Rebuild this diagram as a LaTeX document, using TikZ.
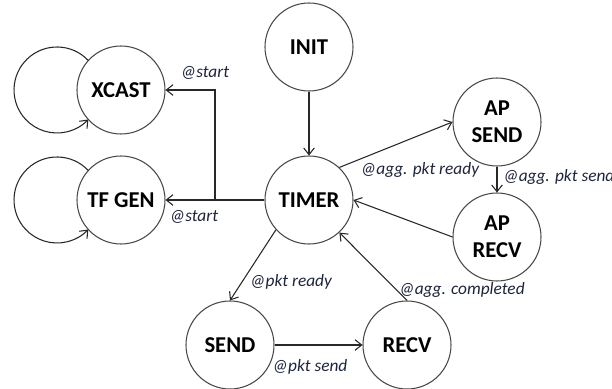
\documentclass[tikz,border=0pt]{standalone}
\usepackage{fontspec}
\setmainfont{Carlito}
\usetikzlibrary{arrows.meta}
\definecolor{lbl}{RGB}{30,36,60}
\definecolor{edge}{RGB}{40,40,40}
\tikzset{
  state/.style={circle, draw=edge!85, line width=0.8pt, minimum size=66pt, inner sep=0pt,
    align=center, font=\bfseries\fontsize{17}{20}\selectfont, text=black},
  arr/.style={draw=edge, line width=0.8pt, -{Straight Barb[length=5pt,width=8pt]}},
  lab/.style={font=\itshape\fontsize{13}{15}\selectfont, text=lbl, inner sep=0pt}
}
\begin{document}
\begin{tikzpicture}[x=0.75pt,y=0.75pt]
\useasboundingbox (0,0) rectangle (612,-389);
\node[state] (init) at (309,-47) {INIT};
\node[state] (timer) at (309,-200) {TIMER};
\node[state] (xcast) at (121,-90) {XCAST};
\node[state] (tfgen) at (121,-200) {TF GEN};
\node[state] (apsend) at (497,-122) {AP\\SEND};
\node[state] (aprecv) at (497,-237) {AP\\RECV};
\node[state] (send) at (230,-345) {SEND};
\node[state] (recv) at (407,-345) {RECV};
\coordinate (bend) at (215,-200);
% self loops
\draw[arr] (xcast.center) ++(-32.7,29.5) arc[start angle=43.3, end angle=316.7, radius=32.25pt];
\draw[arr] (tfgen.center) ++(-32.7,29.5) arc[start angle=43.3, end angle=316.7, radius=32.25pt];
% edges
\draw[arr] (init.south) -- (timer.north);
\draw[arr] (timer.west) -- (tfgen.east);
\draw[arr] (bend) |- (xcast.east);
\draw[arr] (timer.47) -- (apsend.west);
\draw[arr] (apsend.south) -- (aprecv.north);
\draw[arr] (aprecv.west) -- (timer.east);
\draw[arr] (timer.222) -- (send.north);
\draw[arr] (send.east) -- (recv.west);
\draw[arr] (recv.north) -- (timer.313);
% labels
\node[lab] (l1) at (205,-73) {@start};
\node[lab] (l2) at (194,-217) {@start};
\node[lab] (l3) at (420,-170) {@agg. pkt ready};
\node[lab, anchor=west] (l4) at (503,-177) {@agg. pkt send};
\node[lab] (l5) at (291,-282) {@pkt ready};
\node[lab] (l6) at (462,-290) {@agg. completed};
\node[lab] (l7) at (310,-367) {@pkt send};
\end{tikzpicture}
\end{document}
